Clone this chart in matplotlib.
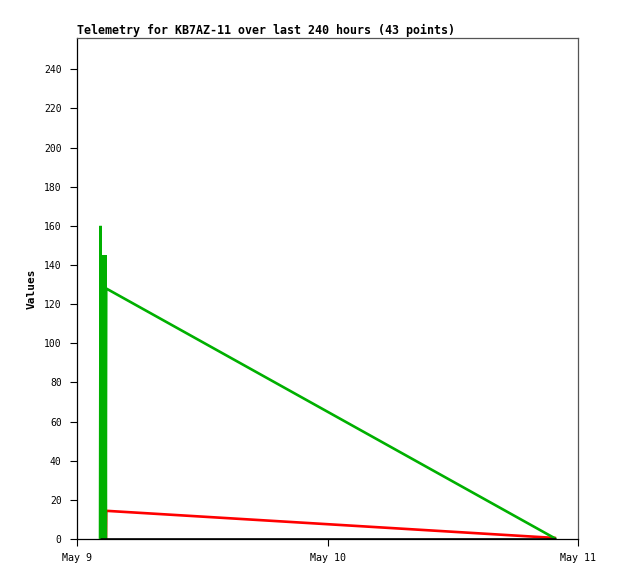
import matplotlib
matplotlib.use("Agg")
import matplotlib.pyplot as plt

# hours after May 9 00:00
hours = [2.208, 2.256, 2.352, 2.448, 2.50, 2.55, 2.60, 2.64, 2.68, 2.72, 2.76, 2.775, 2.80, 45.9]
green_vals = [0, 160, 0, 97, 0, 145, 0, 145, 0, 145, 0, 64, 128, 0]
red_vals = [0, 0, 0, 0, 0, 0, 0, 0, 0, 0, 0, 0, 14.4, 0.5]
black_vals = [0, 0, 0, 0, 0, 0, 0, 0, 0, 0, 0, 0, 0, 0]

x_tick_pos = [0, 24, 48]
x_tick_labels = ["May 9", "May 10", "May 11"]
y_ticks = list(range(0, 241, 20))

title = "Telemetry for KB7AZ-11 over last 240 hours (43 points)"

plt.rcParams['font.family'] = ['DejaVu Sans Mono']

fig = plt.figure(figsize=(6.18, 5.79), dpi=100)
ax = fig.add_axes([77 / 618, 40 / 579, 501 / 618, 501 / 579])

line_kw = dict(linewidth=1.9, solid_joinstyle='bevel', solid_capstyle='butt')
ax.plot(hours, red_vals, color='#ff0000', zorder=2, **line_kw)
ax.plot(hours, green_vals, color='#00b000', zorder=3, **line_kw)
ax.plot(hours, black_vals, color='black', zorder=4, **line_kw)

ax.set_xlim(0, 48)
ax.set_ylim(0, 256)

ax.set_xticks(x_tick_pos)
ax.set_xticklabels(x_tick_labels, fontsize=7.2)
ax.set_yticks(y_ticks)
ax.set_yticklabels([str(v) for v in y_ticks], fontsize=7)

ax.tick_params(axis='y', direction='out', length=5, width=0.8, pad=6)
ax.tick_params(axis='x', direction='out', length=5, width=0.8, pad=5)

for side in ['top', 'right']:
    ax.spines[side].set_color('#555555')
    ax.spines[side].set_linewidth(0.9)
for side in ['left', 'bottom']:
    ax.spines[side].set_color('black')
    ax.spines[side].set_linewidth(0.9)

ax.set_ylabel("Values", fontsize=8, fontweight='bold', labelpad=5)
ax.set_title(title, fontsize=8.4, fontweight='bold', loc='left', pad=3)

fig.savefig("out.png", dpi=100)
